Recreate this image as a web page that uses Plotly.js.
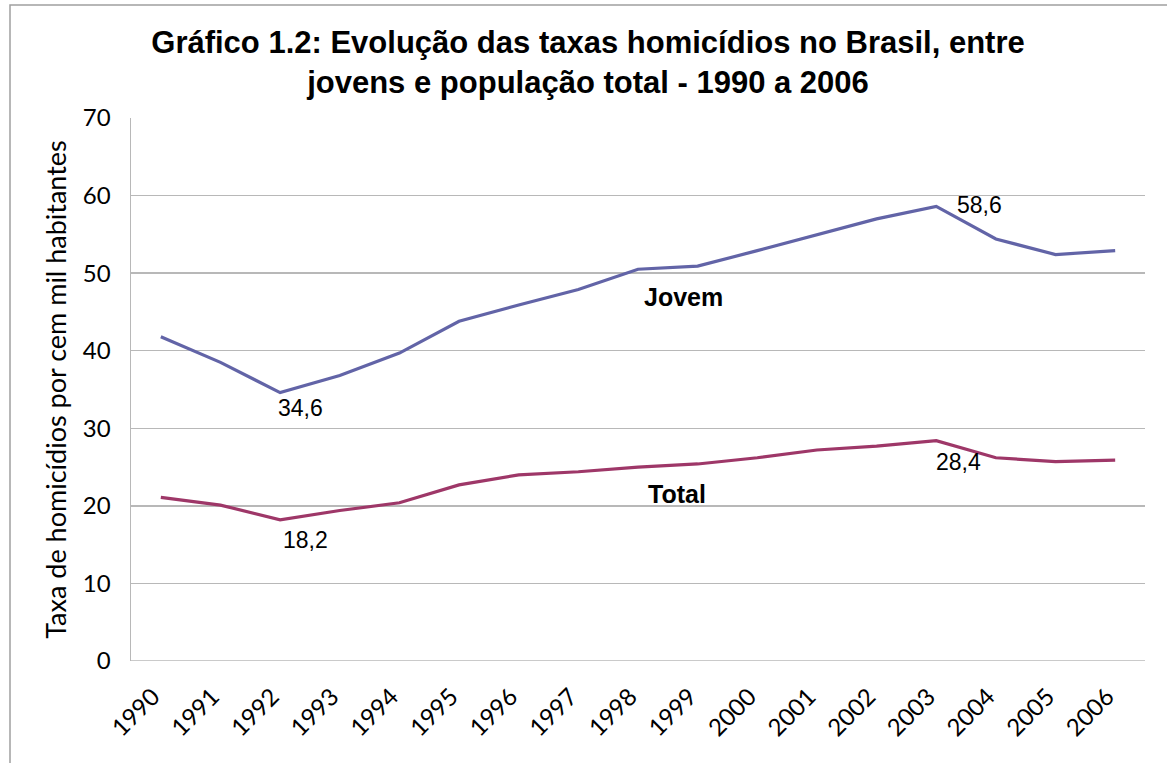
<!DOCTYPE html>
<html>
<head>
<meta charset="utf-8">
<script src="https://cdn.plot.ly/plotly-3.0.1.min.js"></script>
<style>
html,body{margin:0;padding:0;background:#fff;}
#chart{width:1167px;height:763px;}
</style>
</head>
<body>
<div id="chart"></div>
<script>
const years = ["1990","1991","1992","1993","1994","1995","1996","1997","1998","1999","2000","2001","2002","2003","2004","2005","2006"];
const jovem = [41.8, 38.5, 34.6, 36.8, 39.7, 43.8, 45.9, 47.9, 50.5, 50.9, 52.9, 55.0, 57.0, 58.6, 54.4, 52.4, 52.9];
const total = [21.1, 20.1, 18.2, 19.4, 20.4, 22.7, 24.0, 24.4, 25.0, 25.4, 26.2, 27.2, 27.7, 28.4, 26.2, 25.7, 25.9];
const yTicks = [0, 10, 20, 30, 40, 50, 60, 70];

const font = "Liberation Sans, Arial, sans-serif";
const font2 = "Lato, Liberation Sans, sans-serif";

const traces = [
  {x: years, y: jovem, type: "scatter", mode: "lines", name: "Jovem",
   line: {color: "#6264A7", width: 3.2}, hoverinfo: "x+y"},
  {x: years, y: total, type: "scatter", mode: "lines", name: "Total",
   line: {color: "#9E3768", width: 3.2}, hoverinfo: "x+y"}
];

const fmt = v => v.toFixed(1).replace(".", ",");

const layout = {
  width: 1167, height: 763,
  margin: {l: 131, r: 22, t: 118, b: 102},
  paper_bgcolor: "#fff", plot_bgcolor: "#fff",
  showlegend: false,
  font: {family: font, color: "#000", size: 20},
  title: {
    text: "<b>Gráfico 1.2: Evolução das taxas homicídios no Brasil, entre<br>jovens e população total - 1990 a 2006</b>",
    font: {family: font, size: 31, color: "#000"},
    x: 588 / 1167, xanchor: "center", xref: "container",
    y: 1 - 53 / 763, yanchor: "middle", yref: "container"
  },
  xaxis: {
    type: "category", range: [-0.5, 16.5], tickangle: -45, showgrid: false,
    showline: false, ticks: "", zeroline: false,
    ticklabelstandoff: 16, ticklabelshift: -8,
    tickfont: {family: font2, size: 24}, fixedrange: true
  },
  yaxis: {
    range: [0, 70], tickvals: yTicks, ticktext: yTicks.map(String),
    showgrid: true, gridcolor: "#B8B8B8", gridwidth: 1.5,
    showline: true, linecolor: "#B8B8B8", linewidth: 1.5,
    ticks: "", zeroline: false, ticklabelstandoff: 14,
    tickfont: {family: font2, size: 24},
    title: {text: "Taxa de homicídios por cem mil habitantes", font: {family: font2, size: 27}, standoff: 8},
    fixedrange: true
  },
  shapes: [
    {type: "line", xref: "paper", yref: "y", x0: 0, x1: 1, y0: 0, y1: 0,
     line: {color: "#B8B8B8", width: 1.5}},
    {type: "rect", xref: "paper", yref: "paper",
     x0: (10 - 131) / 1014, x1: (1175 - 131) / 1014,
     y0: (661 - 775) / 543, y1: (661 - 5) / 543,
     line: {color: "#A0A0A0", width: 1.5}, fillcolor: "rgba(0,0,0,0)", layer: "below"}
  ],
  annotations: [
    {x: 8.77, y: 46.9, xref: "x", yref: "y", text: "<b>Jovem</b>", showarrow: false, font: {family: font, size: 25}},
    {x: 8.66, y: 21.5, xref: "x", yref: "y", text: "<b>Total</b>", showarrow: false, font: {family: font, size: 25}},
    {x: 2.34, y: 32.6, xref: "x", yref: "y", text: fmt(jovem[2]), showarrow: false, font: {family: font, size: 23}},
    {x: 2.43, y: 15.6, xref: "x", yref: "y", text: fmt(total[2]), showarrow: false, font: {family: font, size: 23}},
    {x: 13.73, y: 58.8, xref: "x", yref: "y", text: fmt(jovem[13]), showarrow: false, font: {family: font, size: 23}},
    {x: 13.37, y: 25.7, xref: "x", yref: "y", text: fmt(total[13]), showarrow: false, font: {family: font, size: 23}}
  ]
};

Plotly.newPlot("chart", traces, layout, {displayModeBar: false, staticPlot: true});
</script>
</body>
</html>
